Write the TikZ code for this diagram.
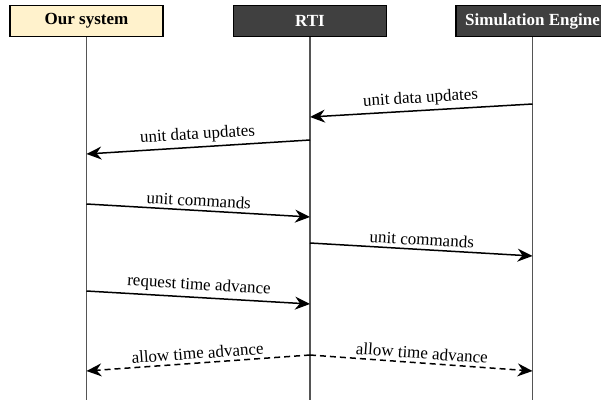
\documentclass[tikz,border=0pt]{standalone}
\usepackage{fontspec}
\setmainfont{Liberation Serif}
\usepackage{tikz}
\usetikzlibrary{arrows.meta,positioning}
\definecolor{oursfill}{HTML}{FFF2CC}
\definecolor{rtifill}{HTML}{404040}
\definecolor{lifegray}{HTML}{555555}
\tikzstyle{every node}=[font=\fontsize{17}{20}\selectfont]
\tikzstyle{actor}=[rectangle,
                   draw=black,
                   line width=1.5pt,
                   minimum width=153pt,
                   minimum height=31pt,
                   inner sep=0pt,
                   font=\fontsize{17}{20}\selectfont\bfseries]
\tikzstyle{ours}=[actor,
                  fill=oursfill]
\tikzstyle{remote}=[actor,
                    fill=rtifill,
                    text=white]
\tikzstyle{lifeline}=[line width=1.5pt,
                      draw=lifegray]
\tikzstyle{msg}=[line width=1.5pt,
                 -{Stealth[length=15pt,width=13pt,inset=5pt]}]

\begin{document}
\begin{tikzpicture}[x=1pt,y=-1pt,node distance=69pt]
\useasboundingbox (0,0) rectangle (601,402);
\node (OS)  [ours] at (86.5,21) {Our system};
\node (RTI) [remote,right=of OS] {RTI};
\node (SE)  [remote,right=68pt of RTI] {Simulation Engine};
% lifelines
\coordinate (OS_end)  at (OS |- 0,400);
\coordinate (RTI_end) at (RTI |- 0,400);
\coordinate (SE_end)  at (SE |- 0,400);
\draw[lifeline] (OS.south) -- (OS_end);
\draw[lifeline] (RTI.south) -- (RTI_end);
\draw[lifeline] (SE.south) -- (SE_end);
% message end points
\coordinate (SE_1)  at (SE |- 0,104);
\coordinate (RTI_1) at (RTI |- 0,117);
\coordinate (RTI_2) at (RTI |- 0,140);
\coordinate (OS_2)  at (OS |- 0,154);
\coordinate (OS_3)  at (OS |- 0,204);
\coordinate (RTI_3) at (RTI |- 0,217);
\coordinate (RTI_4) at (RTI |- 0,243);
\coordinate (SE_4)  at (SE |- 0,256);
\coordinate (OS_5)  at (OS |- 0,291);
\coordinate (RTI_5) at (RTI |- 0,304);
\coordinate (RTI_6) at (RTI |- 0,355);
\coordinate (OS_6)  at (OS |- 0,371);
\coordinate (SE_6)  at (SE |- 0,371);
% messages
\draw[msg] (SE_1) -- node[sloped,above] {unit data updates} (RTI_1);
\draw[msg] (RTI_2) -- node[sloped,above] {unit data updates} (OS_2);
\draw[msg] (OS_3) -- node[sloped,above] {unit commands} (RTI_3);
\draw[msg] (RTI_4) -- node[sloped,above] {unit commands} (SE_4);
\draw[msg] (OS_5) -- node[sloped,above] {request time advance} (RTI_5);
\draw[msg,dash pattern=on 6pt off 4pt] (RTI_6) -- node[sloped,above] {allow time advance} (OS_6);
\draw[msg,dash pattern=on 6pt off 4pt] (RTI_6) -- node[sloped,above] {allow time advance} (SE_6);
\end{tikzpicture}
\end{document}
